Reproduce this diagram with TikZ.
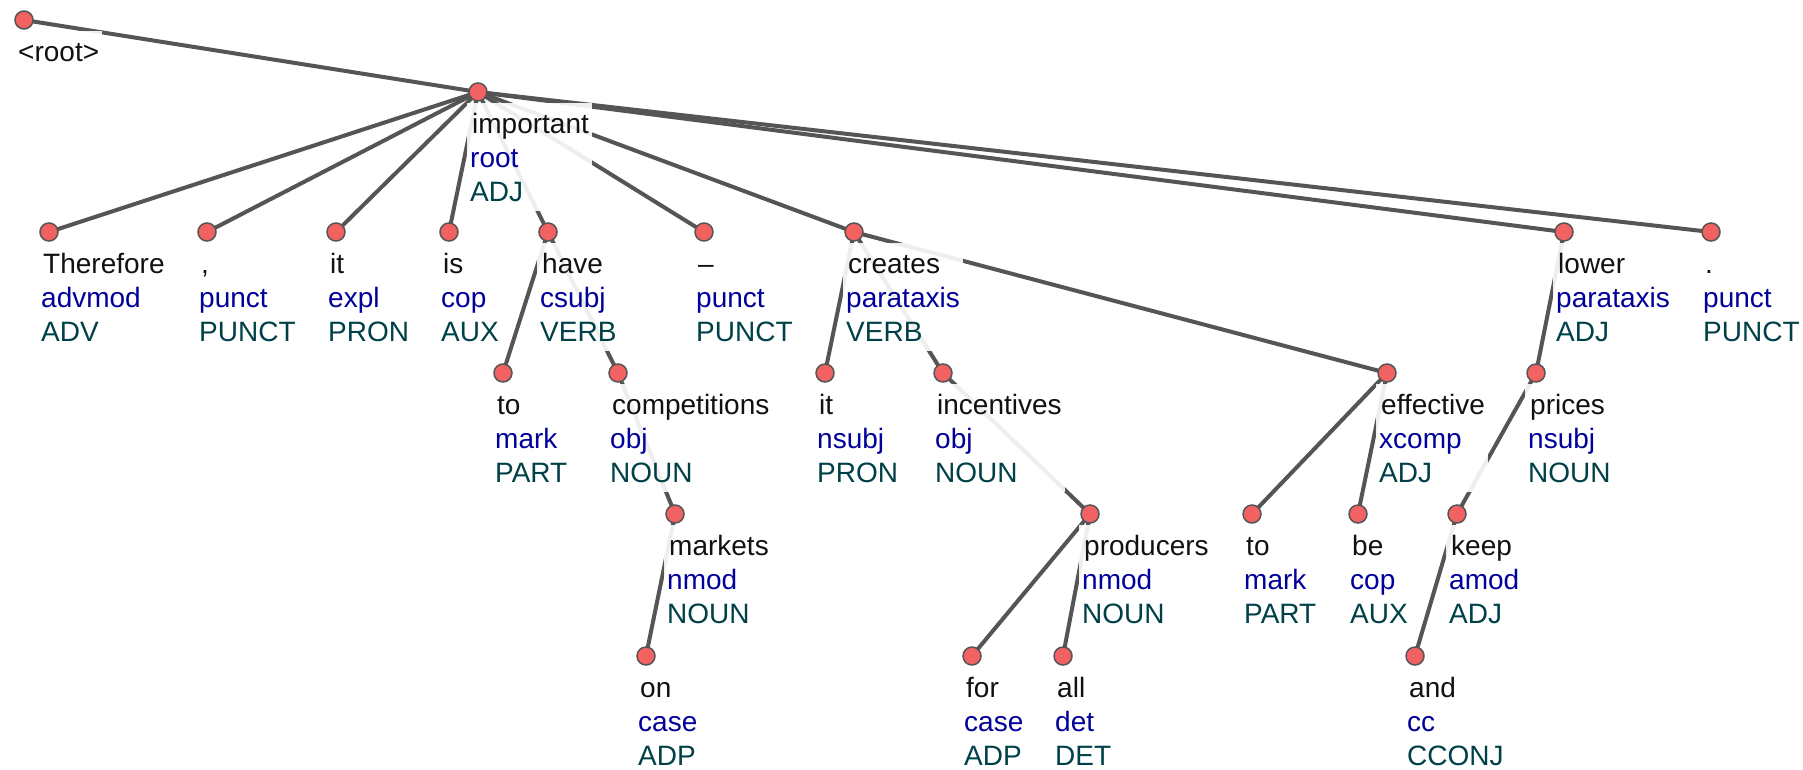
\documentclass[tikz,border=0pt]{standalone}
\usepackage{fontspec}
\setmainfont{Liberation Sans}
\definecolor{wordc}{HTML}{111111}
\definecolor{depc}{HTML}{00009A}
\definecolor{posc}{HTML}{004048}
\definecolor{edgec}{HTML}{555555}
\definecolor{dotc}{HTML}{F26262}
\newcommand\tokfont{\fontsize{28}{34}\selectfont}
\newcommand\tstrut{\rule[-7pt]{0pt}{34pt}}
\pgfdeclarelayer{bg}
\pgfdeclarelayer{edges}
\pgfsetlayers{bg,edges,main}
\tikzset{
  lbl/.style={fill=white, fill opacity=0.9, text opacity=1, inner sep=3pt,
    align=left, anchor=north west, font=\tokfont},
  tokdot/.style={circle, minimum size=18pt, inner sep=0pt, fill=dotc,
    draw=edgec, line width=1.5pt},
  edge/.style={draw=edgec, line width=4pt}
}
% token: name, x, y, word, relation, part of speech
\newcommand\tok[6]{%
  \node[lbl] (#1-l) at (#2-11,#3+11)
    {\tstrut\hspace*{2pt}\color{wordc}#4\\\tstrut\color{depc}#5\\\tstrut\color{posc}#6};
  \node[tokdot] (#1) at (#2,#3) {};}
\begin{document}
\begin{tikzpicture}[x=1pt,y=-1pt]
\useasboundingbox (0,0) rectangle (1803,769);
\begin{pgfonlayer}{bg}
\fill[white] (0,0) rectangle (1803,769);
\end{pgfonlayer}
% the artificial root
\node[lbl] (t-root-l) at (24-11,20+11) {\tstrut\hspace*{2pt}\color{wordc}<root>};
\node[tokdot] (t-root) at (24,20) {};
% tokens
\tok{t-imp}{478}{92}{important}{root}{ADJ}
\tok{t-thf}{49}{232}{Therefore}{advmod}{ADV}
\tok{t-com}{207}{232}{,}{punct}{PUNCT}
\tok{t-it1}{336}{232}{it}{expl}{PRON}
\tok{t-is}{449}{232}{is}{cop}{AUX}
\tok{t-have}{548}{232}{have}{csubj}{VERB}
\tok{t-dash}{704}{232}{–}{punct}{PUNCT}
\tok{t-cre}{854}{232}{creates}{parataxis}{VERB}
\tok{t-low}{1564}{232}{lower}{parataxis}{ADJ}
\tok{t-stop}{1711}{232}{.}{punct}{PUNCT}
\tok{t-to1}{503}{373}{to}{mark}{PART}
\tok{t-comp}{618}{373}{competitions}{obj}{NOUN}
\tok{t-it2}{825}{373}{it}{nsubj}{PRON}
\tok{t-inc}{943}{373}{incentives}{obj}{NOUN}
\tok{t-eff}{1387}{373}{effective}{xcomp}{ADJ}
\tok{t-pri}{1536}{373}{prices}{nsubj}{NOUN}
\tok{t-mkt}{675}{514}{markets}{nmod}{NOUN}
\tok{t-prod}{1090}{514}{producers}{nmod}{NOUN}
\tok{t-to2}{1252}{514}{to}{mark}{PART}
\tok{t-be}{1358}{514}{be}{cop}{AUX}
\tok{t-keep}{1457}{514}{keep}{amod}{ADJ}
\tok{t-on}{646}{656}{on}{case}{ADP}
\tok{t-for}{972}{656}{for}{case}{ADP}
\tok{t-all}{1063}{656}{all}{det}{DET}
\tok{t-and}{1415}{656}{and}{cc}{CCONJ}
% dependency arcs, drawn beneath labels and dots
\begin{pgfonlayer}{edges}
\foreach \h/\d in {t-root/t-imp,
  t-imp/t-thf, t-imp/t-com, t-imp/t-it1, t-imp/t-is, t-imp/t-have,
  t-imp/t-dash, t-imp/t-cre, t-imp/t-low, t-imp/t-stop,
  t-have/t-to1, t-have/t-comp, t-comp/t-mkt, t-mkt/t-on,
  t-cre/t-it2, t-cre/t-inc, t-cre/t-eff, t-inc/t-prod,
  t-prod/t-for, t-prod/t-all, t-eff/t-to2, t-eff/t-be,
  t-low/t-pri, t-pri/t-keep, t-keep/t-and}
  \draw[edge] (\h.center) -- (\d.center);
\end{pgfonlayer}
\end{tikzpicture}
\end{document}
